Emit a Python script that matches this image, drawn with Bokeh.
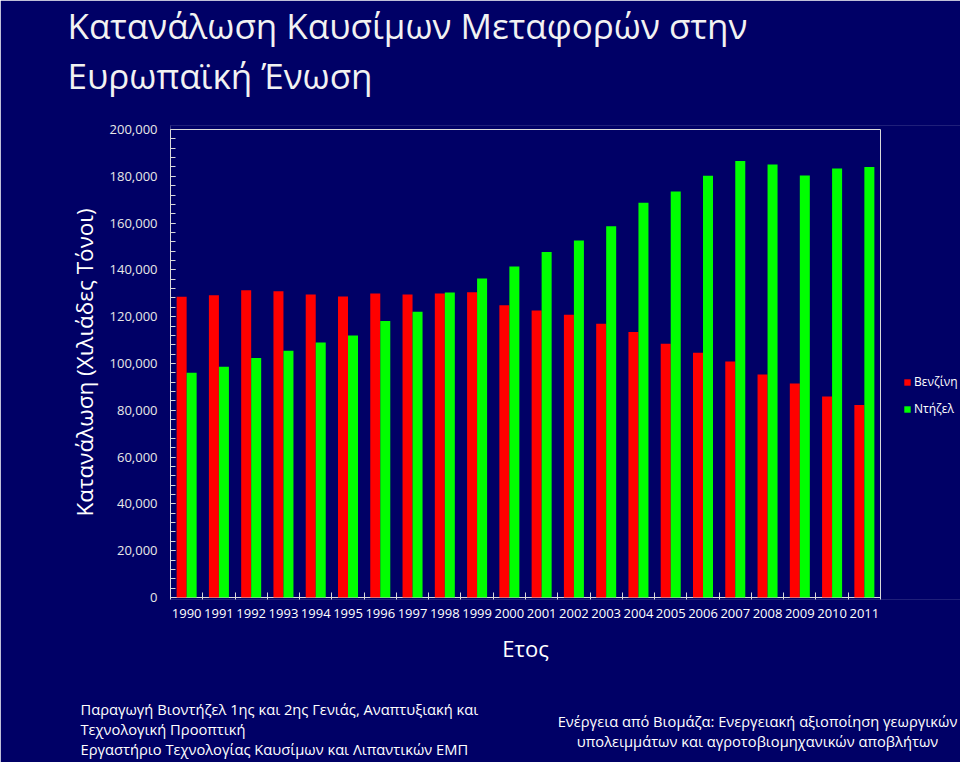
import numpy as np
from bokeh.plotting import figure
from bokeh.models import (ColumnDataSource, Range1d, FixedTicker, SingleIntervalTicker,
                          NumeralTickFormatter, Label, Legend, LegendItem)
from bokeh.transform import dodge
from bokeh.embed import file_html
from bokeh.resources import INLINE

# ---------------- data ----------------
years = [str(y) for y in range(1990, 2012)]
benzine = [128500, 129200, 131300, 130900, 129500, 128600, 129900, 129500, 129900, 130500,
           124900, 122600, 120800, 117000, 113500, 108400, 104600, 100900, 95300, 91500,
           85900, 82300]
diesel = [96100, 98600, 102400, 105400, 109000, 112000, 118200, 122100, 130300, 136300,
          141500, 147600, 152600, 158700, 168700, 173500, 180200, 186500, 185000, 180300,
          183300, 184000]
series_names = ["Βενζίνη", "Ντήζελ"]
series_colors = ["#ff0000", "#00ff00"]

title_lines = ["Κατανάλωση Καυσίμων Μεταφορών στην", "Ευρωπαϊκή Ένωση"]
y_title = "Κατανάλωση (Χιλιάδες Τόνοι)"
x_title = "Ετος"
footer_left = ["Παραγωγή Βιοντήζελ 1ης και 2ης Γενιάς, Αναπτυξιακή και",
               "Τεχνολογική Προοπτική",
               "Εργαστήριο Τεχνολογίας Καυσίμων και Λιπαντικών ΕΜΠ"]
footer_right = ["Ενέργεια από Βιομάζα: Ενεργειακή αξιοποίηση γεωργικών",
                "υπολειμμάτων και αγροτοβιομηχανικών αποβλήτων"]

# ---------------- layout constants ----------------
W, H = 960, 762
FL, FT, FW, FH = 170, 129, 710, 468   # chart box (left, top, width, height) in px
PAD_TOP, PAD_BOT = 4, 2               # frame extends a little beyond the chart box
BG = "#000066"
AX = "#d9d9d9"
FONT = "Open Sans"
YMAX = 200000
n = len(years)

centers = np.arange(n) + 0.5
src = ColumnDataSource(dict(x=centers, year=years, benzine=benzine, diesel=diesel))

# frame runs to the right edge so the legend can sit inside it
x_end = n * (W - FL) / FW
y_start = -YMAX * PAD_BOT / FH
y_end = YMAX * (FH + PAD_TOP) / FH
p = figure(width=W, height=H, output_backend="svg", toolbar_location=None,
           x_range=Range1d(0, x_end), y_range=Range1d(y_start, y_end),
           min_border_left=FL, min_border_right=0,
           min_border_top=FT - PAD_TOP, min_border_bottom=H - FT - FH - PAD_BOT)
p.background_fill_color = BG
p.border_fill_color = BG
p.outline_line_color = None
p.xgrid.visible = False
p.ygrid.visible = False

# hide the thin seam along the frame's top and bottom edges
p.segment(x0=[0, 0], y0=[y_start, y_end], x1=[x_end, x_end], y1=[y_start, y_end],
          line_color=BG, line_width=3, level="underlay")
# chart border: bottom, top and right edges of the chart box
p.segment(x0=[0, 0, n], y0=[0, YMAX, 0], x1=[n, n, n], y1=[0, YMAX, YMAX],
          line_color=AX, line_width=1, level="underlay")

bw = 0.31
r1 = p.vbar(x=dodge("x", -bw / 2), top="benzine", width=bw, source=src,
            fill_color=series_colors[0], line_color=None)
r2 = p.vbar(x=dodge("x", bw / 2), top="diesel", width=bw, source=src,
            fill_color=series_colors[1], line_color=None)

xa = p.xaxis[0]
xa.bounds = (0, n)
xa.ticker = FixedTicker(ticks=list(centers), minor_ticks=list(range(n + 1)))
xa.major_label_overrides = {float(c): y for c, y in zip(centers, years)}
xa.major_tick_in = 0
xa.major_tick_out = 0
xa.minor_tick_in = 5 + PAD_BOT
xa.minor_tick_out = 0
xa.minor_tick_line_color = AX
xa.axis_line_color = None
xa.major_label_text_color = "#ffffff"
xa.major_label_text_font = FONT
xa.major_label_text_font_size = "13px"
xa.major_label_standoff = 11 - PAD_BOT

ya = p.yaxis[0]
ya.bounds = (0, YMAX)
ya.ticker = SingleIntervalTicker(interval=20000, num_minor_ticks=5)
ya.formatter = NumeralTickFormatter(format="0,0")
ya.major_tick_in = 5
ya.major_tick_out = 0
ya.minor_tick_in = 5
ya.minor_tick_out = 0
ya.major_tick_line_color = AX
ya.minor_tick_line_color = AX
ya.axis_line_color = AX
ya.major_label_text_color = "#e8e8e8"
ya.major_label_text_font = FONT
ya.major_label_text_font_size = "13px"
ya.major_label_standoff = 13
ya.axis_label = y_title
ya.axis_label_text_font = FONT
ya.axis_label_text_font_size = "22.5px"
ya.axis_label_text_font_style = "normal"
ya.axis_label_text_color = "#ffffff"
ya.axis_label_standoff = 7

legend = Legend(items=[LegendItem(label=series_names[0], renderers=[r1]),
                       LegendItem(label=series_names[1], renderers=[r2])],
                location=(733, 180 + PAD_BOT), glyph_width=8, glyph_height=8,
                label_height=16, spacing=10, padding=0, margin=0, label_standoff=3,
                label_text_font=FONT, label_text_font_size="12px",
                label_text_color="#ffffff", background_fill_alpha=0, border_line_alpha=0)
p.add_layout(legend)


def canvas_label(text, x, baseline_y, size, side, align="left", color="#ffffff"):
    # labels land about 0.36 em below the given y, so shift up to hit the baseline
    p.add_layout(Label(x=x, y=baseline_y - 0.36 * size, x_units="canvas", y_units="canvas",
                       text=text, text_font=FONT, text_font_size=f"{size}px",
                       text_color=color, text_align=align, text_baseline="alphabetic"), side)


canvas_label(title_lines[0], 67, 38, 35, "above", color="#f2f2f2")
canvas_label(title_lines[1], 67, 88, 35, "above", color="#f2f2f2")
canvas_label(x_title, FL + FW / 2, 655, 22, "below", align="center")
for i, t in enumerate(footer_left):
    canvas_label(t, 80, 714 + 20 * i, 14.7, "below")
for i, t in enumerate(footer_right):
    canvas_label(t, 757, 726 + 20 * i, 14.7, "below", align="center")

open("out.html", "w").write(file_html(p, INLINE))
